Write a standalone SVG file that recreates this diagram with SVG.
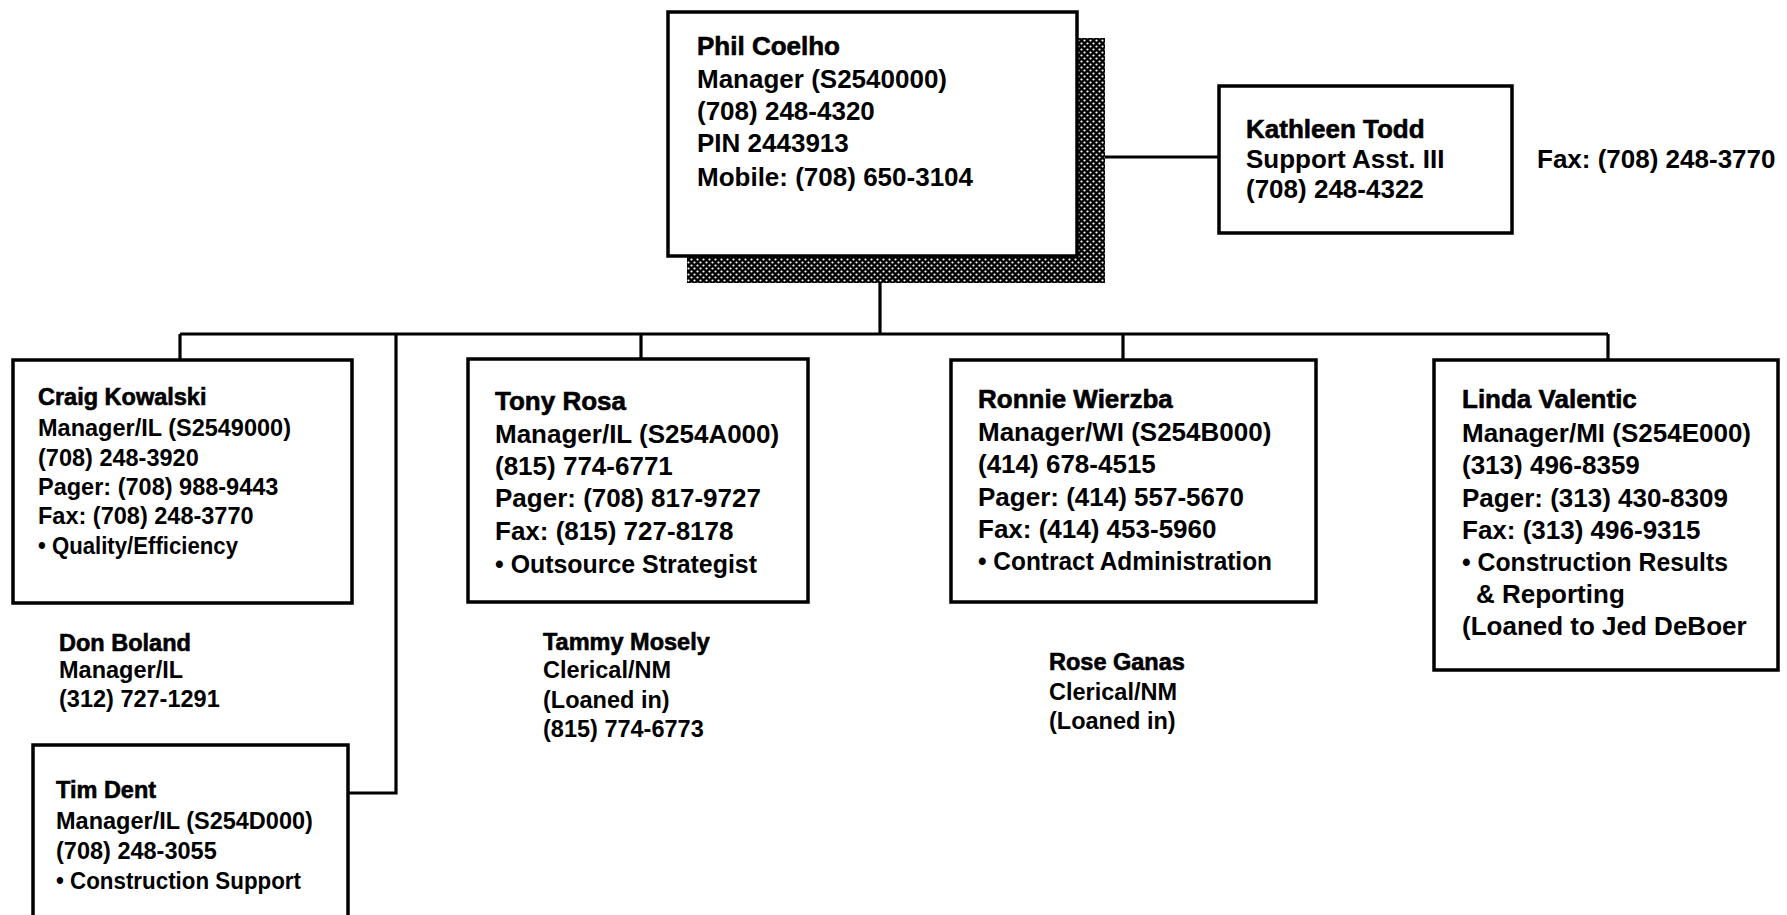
<svg xmlns="http://www.w3.org/2000/svg" width="1787" height="915" viewBox="0 0 1787 915">
<style>
text{font-family:"Liberation Sans",Arial,Helvetica,sans-serif;font-weight:bold;fill:#000}
.n{stroke:#000;stroke-width:0.6}
.box{fill:#fff;stroke:#000;stroke-width:3.5}
.c{fill:none;stroke:#000;stroke-width:3.2}
.f26{font-size:26px}
.f24{font-size:23.5px}
</style>
<defs>
<pattern id="hatch" width="6" height="6" patternUnits="userSpaceOnUse">
<rect width="6" height="6" fill="#000"/>
<circle cx="1.5" cy="1.5" r="1.1" fill="#fff"/>
<circle cx="4.5" cy="4.5" r="1.1" fill="#fff"/>
</pattern>
</defs>
<rect width="1787" height="915" fill="#fff"/>
<g id="connectors">
<path class="c" d="M880 283V334M180 334H1608M180 334V360M641 334V359M1123 334V360M1608 334V360M396 334V793H348M1105 157H1219"/>
</g>
<g id="phil">
<rect x="1077" y="38" width="28" height="245" fill="url(#hatch)"/>
<rect x="687" y="256" width="418" height="27" fill="url(#hatch)"/>
<rect class="box" x="668" y="12" width="409" height="244"/>
<g class="f26">
<text class="n" x="697" y="55">Phil Coelho</text>
<text x="697" y="88">Manager (S2540000)</text>
<text x="697" y="120">(708) 248-4320</text>
<text x="697" y="152">PIN 2443913</text>
<text x="697" y="186">Mobile: (708) 650-3104</text>
</g>
</g>
<g id="kathleen">
<rect class="box" x="1219" y="86" width="293" height="147"/>
<g class="f26">
<text class="n" x="1246" y="138">Kathleen Todd</text>
<text x="1246" y="168">Support Asst. III</text>
<text x="1246" y="198">(708) 248-4322</text>
</g>
</g>
<g id="kathleen-fax">
<text class="f26" x="1537" y="168">Fax: (708) 248-3770</text>
</g>
<g id="craig">
<rect class="box" x="13" y="360" width="339" height="243"/>
<g class="f24">
<text class="n" x="38" y="405">Craig Kowalski</text>
<text x="38" y="436">Manager/IL (S2549000)</text>
<text x="38" y="466">(708) 248-3920</text>
<text x="38" y="495">Pager: (708) 988-9443</text>
<text x="38" y="524">Fax: (708) 248-3770</text>
<text x="38" y="554" textLength="200" lengthAdjust="spacingAndGlyphs">• Quality/Efficiency</text>
</g>
</g>
<g id="don">
<g class="f24">
<text class="n" x="59" y="651">Don Boland</text>
<text x="59" y="678">Manager/IL</text>
<text x="59" y="707">(312) 727-1291</text>
</g>
</g>
<g id="tim">
<rect class="box" x="33" y="745" width="315" height="185"/>
<g class="f24">
<text class="n" x="56" y="798">Tim Dent</text>
<text x="56" y="829">Manager/IL (S254D000)</text>
<text x="56" y="859">(708) 248-3055</text>
<text x="56" y="889" textLength="245" lengthAdjust="spacingAndGlyphs">• Construction Support</text>
</g>
</g>
<g id="tony">
<rect class="box" x="468" y="359" width="340" height="243"/>
<g class="f26">
<text class="n" x="495" y="410">Tony Rosa</text>
<text x="495" y="443">Manager/IL (S254A000)</text>
<text x="495" y="475">(815) 774-6771</text>
<text x="495" y="507">Pager: (708) 817-9727</text>
<text x="495" y="540">Fax: (815) 727-8178</text>
<text x="495" y="573" textLength="262" lengthAdjust="spacingAndGlyphs">• Outsource Strategist</text>
</g>
</g>
<g id="tammy">
<g class="f24">
<text class="n" x="543" y="650">Tammy Mosely</text>
<text x="543" y="678">Clerical/NM</text>
<text x="543" y="708">(Loaned in)</text>
<text x="543" y="737">(815) 774-6773</text>
</g>
</g>
<g id="ronnie">
<rect class="box" x="951" y="360" width="365" height="242"/>
<g class="f26">
<text class="n" x="978" y="408">Ronnie Wierzba</text>
<text x="978" y="441">Manager/WI (S254B000)</text>
<text x="978" y="473">(414) 678-4515</text>
<text x="978" y="506">Pager: (414) 557-5670</text>
<text x="978" y="538">Fax: (414) 453-5960</text>
<text x="978" y="570" textLength="294" lengthAdjust="spacingAndGlyphs">• Contract Administration</text>
</g>
</g>
<g id="rose">
<g class="f24">
<text class="n" x="1049" y="670">Rose Ganas</text>
<text x="1049" y="700">Clerical/NM</text>
<text x="1049" y="729">(Loaned in)</text>
</g>
</g>
<g id="linda">
<rect class="box" x="1434" y="360" width="344" height="310"/>
<g class="f26">
<text class="n" x="1462" y="408">Linda Valentic</text>
<text x="1462" y="442">Manager/MI (S254E000)</text>
<text x="1462" y="474">(313) 496-8359</text>
<text x="1462" y="507">Pager: (313) 430-8309</text>
<text x="1462" y="539">Fax: (313) 496-9315</text>
<text x="1462" y="571" textLength="266" lengthAdjust="spacingAndGlyphs">• Construction Results</text>
<text x="1476" y="603">&amp; Reporting</text>
<text x="1462" y="635">(Loaned to Jed DeBoer</text>
</g>
</g>
</svg>
